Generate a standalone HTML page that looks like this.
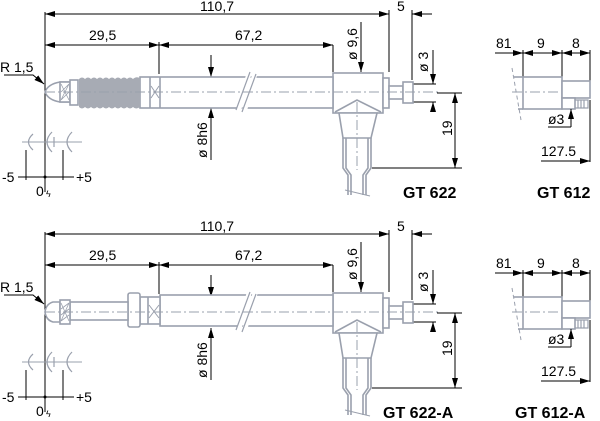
<!DOCTYPE html>
<html><head><meta charset="utf-8"><style>
html,body{margin:0;padding:0;background:#fff;}
svg{display:block;}
text{font-family:"Liberation Sans",Arial,sans-serif;fill:#000;}
.d{stroke:#000;stroke-width:1;fill:none;}
.g{stroke:#9aa0ad;stroke-width:1.6;fill:none;}
.gf{stroke:#9aa0ad;stroke-width:1.6;fill:#fff;}
.c{stroke:#9aa0ad;stroke-width:1;fill:none;stroke-dasharray:10,3,2,3;}
.t{font-size:14px;}
.b{font-size:16px;font-weight:bold;}
</style></head><body>
<svg width="600" height="421" viewBox="0 0 600 421" xmlns="http://www.w3.org/2000/svg">
<defs>
<marker id="a" viewBox="0 0 10 6" refX="10" refY="3" markerWidth="10" markerHeight="6" orient="auto-start-reverse" markerUnits="userSpaceOnUse"><path d="M0,0 L10,3 L0,6z" fill="#000"/></marker>
</defs>

<g id="top">
<line class="d" x1="45" y1="12" x2="45" y2="192"/>
<line class="d" x1="45" y1="14" x2="389" y2="14" marker-start="url(#a)" marker-end="url(#a)"/>
<text class="t" x="200" y="11">110,7</text>
<line class="d" x1="389" y1="10" x2="389" y2="72"/>
<line class="d" x1="412" y1="10" x2="412" y2="80"/>
<line class="d" x1="412" y1="14" x2="432" y2="14" marker-start="url(#a)"/>
<text class="t" x="397" y="11">5</text>
<line class="d" x1="45" y1="45" x2="159" y2="45" marker-start="url(#a)" marker-end="url(#a)"/>
<line class="d" x1="159" y1="45" x2="333" y2="45" marker-start="url(#a)" marker-end="url(#a)"/>
<line class="d" x1="159" y1="42" x2="159" y2="74"/>
<line class="d" x1="333" y1="45" x2="333" y2="72"/>
<text class="t" x="89" y="40">29,5</text>
<text class="t" x="235" y="40">67,2</text>
<line class="d" x1="361" y1="62" x2="361" y2="72" marker-end="url(#a)"/>
<line class="d" x1="361" y1="22" x2="361" y2="62"/>
<text class="t" transform="translate(357,60) rotate(-90)">ø 9,6</text>
<line class="d" x1="413" y1="84" x2="436" y2="84"/>
<line class="d" x1="413" y1="102" x2="436" y2="102"/>
<line class="d" x1="433" y1="50" x2="433" y2="84" marker-end="url(#a)"/>
<line class="d" x1="433" y1="112" x2="433" y2="102" marker-end="url(#a)"/>
<text class="t" transform="translate(428,72) rotate(-90)">ø 3</text>
<line class="d" x1="437" y1="93" x2="462" y2="93"/>
<line class="d" x1="372" y1="168" x2="462" y2="168"/>
<line class="d" x1="455" y1="93" x2="455" y2="168" marker-start="url(#a)" marker-end="url(#a)"/>
<text class="t" transform="translate(452,136) rotate(-90)">19</text>
<line class="d" x1="211" y1="55" x2="211" y2="77" marker-end="url(#a)"/>
<line class="d" x1="211" y1="160" x2="211" y2="108" marker-end="url(#a)"/>
<text class="t" transform="translate(207,158) rotate(-90)">ø 8h6</text>
<text class="t" x="0" y="72">R 1,5</text>
<polyline class="d" points="4,75 33,75 44,84" marker-end="url(#a)"/>
<line class="g" x1="22" y1="142" x2="82" y2="142" style="stroke-width:1"/>
<path class="g" d="M33,134 Q24,142 33,150 M52,132 Q42,142 52,152 M54,137 L54,147 M72,132 Q62,142 72,152" style="stroke-width:1.2"/>
<line class="d" x1="26" y1="150" x2="26" y2="180"/>
<line class="d" x1="63" y1="150" x2="63" y2="180"/>
<line class="d" x1="18" y1="177" x2="74" y2="177"/>
<circle cx="45" cy="177" r="1.5" fill="#000"/>
<text class="t" x="2" y="182">-5</text>
<text class="t" x="76" y="182">+5</text>
<text class="t" x="36" y="196">0</text>
<text x="46" y="197" style="font-size:9px">ϟ</text>

<rect class="gf" x="333" y="73" width="50" height="40"/>
<polygon class="gf" points="339,113 377,113 371,138 343,138"/>
<polyline class="g" points="335,112 357,100 381,112"/>
<rect class="gf" x="383" y="78" width="6" height="30"/>
<rect class="gf" x="389" y="86" width="14" height="13"/>
<rect class="gf" x="403" y="82" width="10" height="21"/>
<path class="g" d="M343,138 V168 L348,175 V195 M371,138 V168 L366,175 V195 M346,138 V168 L351,175 V195 M368,138 V168 L363,175 V195"/>
<line class="g" x1="345" y1="190" x2="370" y2="196" style="stroke-width:1"/>
<line class="d" x1="495" y1="53" x2="523" y2="53" marker-end="url(#a)"/>
<line class="d" x1="523" y1="53" x2="562" y2="53" marker-start="url(#a)" marker-end="url(#a)"/>
<line class="d" x1="562" y1="53" x2="590" y2="53" marker-start="url(#a)" marker-end="url(#a)"/>
<line class="d" x1="523" y1="50" x2="523" y2="77"/>
<line class="d" x1="562" y1="50" x2="562" y2="77"/>
<line class="d" x1="590" y1="50" x2="590" y2="81"/>
<text class="t" x="496" y="48">81</text>
<text class="t" x="537" y="48">9</text>
<text class="t" x="572" y="48">8</text>
<rect class="gf" x="523" y="77" width="39" height="32"/>
<polyline class="g" points="523,77 514,77"/>
<polyline class="g" points="523,109 518,109"/>
<line class="g" x1="512" y1="68" x2="521" y2="120" style="stroke-width:1;stroke-dasharray:4,3"/>
<rect class="gf" x="562" y="81" width="28" height="17"/>
<rect class="gf" x="562" y="98" width="13" height="11"/>
<path class="g" d="M575,100 H588 V108 H575 M578,100 V108 M581,100 V108 M584,100 V108" style="stroke-width:1.2"/>
<line class="d" x1="571" y1="127" x2="571" y2="109" marker-end="url(#a)"/>
<line class="d" x1="548" y1="127" x2="571" y2="127"/>
<text class="t" x="548" y="124">ø3</text>
<line class="d" x1="590" y1="100" x2="590" y2="162"/>
<line class="d" x1="541" y1="161" x2="590" y2="161" marker-end="url(#a)"/>
<text class="t" x="541" y="156">127.5</text>
</g>

<!-- top body -->
<rect class="gf" x="140" y="77" width="193" height="31"/>
<line class="g" x1="150" y1="77" x2="150" y2="108"/>
<line class="g" x1="160" y1="77" x2="160" y2="108"/>
<path class="g" d="M151,86 L159,98 M159,86 L151,98" style="stroke-width:1"/>
<path d="M238,112 L250,70 M244,112 L256,70" stroke="#fff" stroke-width="5"/>
<path class="g" d="M236,110 L250,72 M242,112 L256,74" style="stroke-width:1.2"/>
<path d="M79,79 Q82,76 85,79 Q88,76 91,79 Q94,76 97,79 Q100,76 103,79 Q106,76 109,79 Q112,76 115,79 Q118,76 121,79 Q124,76 127,79 Q130,76 133,79 Q136,76 140,78 L140,107 Q136,110 133,107 Q130,110 127,107 Q124,110 121,107 Q118,110 115,107 Q112,110 109,107 Q106,110 103,107 Q100,110 97,107 Q94,110 91,107 Q88,110 85,107 Q82,110 79,107 Z" fill="#a7abb4"/>
<path class="gf" d="M70,82 H60 Q48,84 45,92 Q48,100 60,102 H70 Z"/>
<rect class="gf" x="60" y="82" width="10" height="20"/>
<path class="g" d="M61,84 L69,100 M69,84 L61,100 M61,92 L69,84 M61,100 L69,92" style="stroke-width:0.8"/>
<rect class="gf" x="70" y="80" width="8" height="25"/>
<text class="b" x="403" y="198">GT 622</text>
<text class="b" x="537" y="198">GT 612</text>

<!-- bottom -->
<use href="#top" transform="translate(0,220)"/>
<rect class="gf" x="160" y="295" width="173" height="31"/>
<rect class="gf" x="140" y="297" width="20" height="27"/>
<line class="g" x1="148" y1="297" x2="148" y2="324"/>
<path class="g" d="M149,305 L159,318 M159,305 L149,318" style="stroke-width:1"/>
<rect class="gf" x="128" y="293" width="12" height="34" rx="2"/>
<rect class="gf" x="70" y="302" width="58" height="18"/>
<path d="M238,332 L250,290 M244,332 L256,290" stroke="#fff" stroke-width="5"/>
<path class="g" d="M236,330 L250,292 M242,332 L256,294" style="stroke-width:1.2"/>
<path class="gf" d="M60,302 H53 Q46,304 45,312 Q46,320 53,322 H60 Z"/>
<rect class="gf" x="60" y="300" width="10" height="24"/>
<path class="g" d="M61,303 L69,321 M69,303 L61,321 M61,309 L69,303 M61,315 L69,309 M61,321 L69,315" style="stroke-width:0.8"/>
<text class="b" x="383" y="418">GT 622-A</text>
<text class="b" x="515" y="418">GT 612-A</text>

<!-- centerlines on top -->
<g id="cl">
<line class="c" x1="45" y1="92" x2="440" y2="92"/>
<line class="c" x1="357" y1="102" x2="357" y2="170"/>
<line class="c" x1="512" y1="92" x2="560" y2="92"/>
</g>
<use href="#cl" transform="translate(0,220)"/>
</svg>
</body></html>
